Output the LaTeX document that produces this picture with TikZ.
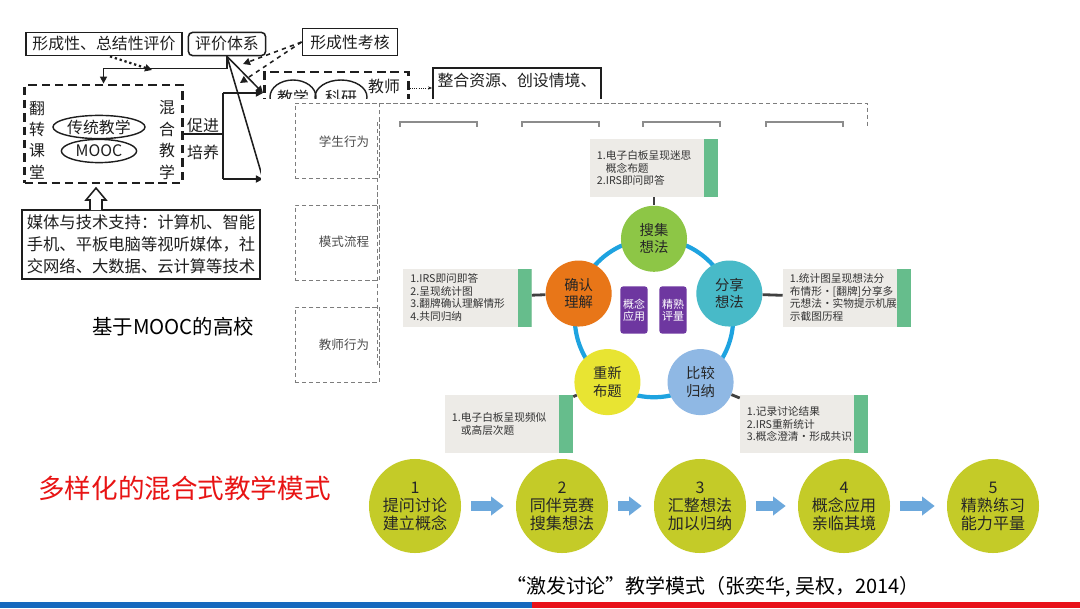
\documentclass[tikz,border=0pt]{standalone}
\usepackage{fontspec}
\setmainfont{Noto Sans CJK SC}
\usepackage{xcolor}
\usepackage{tikz}
\usetikzlibrary{arrows.meta,positioning,shapes.geometric,calc}

\definecolor{scanink}{RGB}{30,30,30}
\definecolor{bgray}{RGB}{125,125,125}
\definecolor{boxgray}{RGB}{237,235,231}
\definecolor{bargreen}{RGB}{102,189,140}
\definecolor{ringblue}{RGB}{30,163,224}
\definecolor{ballgreen}{RGB}{141,198,70}
\definecolor{ballteal}{RGB}{72,186,200}
\definecolor{ballblue}{RGB}{143,184,228}
\definecolor{ballyellow}{RGB}{232,228,50}
\definecolor{ballorange}{RGB}{232,118,24}
\definecolor{tilepurple}{RGB}{110,55,160}
\definecolor{stageolive}{RGB}{196,203,40}
\definecolor{stagearrow}{RGB}{108,168,220}
\definecolor{titlered}{RGB}{232,20,20}
\definecolor{barblue}{RGB}{22,105,190}
\definecolor{barred}{RGB}{232,18,26}

\begin{document}
\begin{tikzpicture}[
  x=0.025cm, y=-0.025cm,
  scanbox/.style={draw=scanink, line width=1.1pt, inner sep=0pt, text=scanink,
    font=\fontsize{11.3pt}{14pt}\selectfont},
  scanline/.style={draw=scanink, line width=1.1pt},
  scantip/.style={-{Triangle[length=5pt, width=5pt]}},
  scandash/.style={draw=scanink, line width=2pt, dash pattern=on 6pt off 3.5pt},
  scantext/.style={text=scanink, font=\fontsize{11.3pt}{15.2pt}\selectfont, align=center, inner sep=0pt},
  scanoval/.style={draw=scanink, line width=1pt, ellipse, inner sep=0pt, scantext},
  bframe/.style={draw=bgray, densely dashed, line width=0.5pt},
  btext/.style={text=black!70, font=\fontsize{8.9pt}{10pt}\selectfont},
  ibox/.style={fill=boxgray, minimum width=3.2cm, minimum height=1.45cm, inner sep=0pt,
    text width=2.85cm, align=left, text=black!80, font=\fontsize{7.6pt}{8.9pt}\selectfont,
    path picture={\fill[bargreen] ([xshift=-0.35cm]path picture bounding box.north east)
      rectangle (path picture bounding box.south east);}},
  ball/.style={circle, minimum size=1.65cm, inner sep=0pt, align=center, text=black!85,
    font=\fontsize{10.2pt}{12.4pt}\selectfont},
  tile/.style={fill=tilepurple, rounded corners=2pt, minimum width=0.68cm, minimum height=1.18cm,
    inner sep=0pt, align=center, text=white, font=\fontsize{7.8pt}{8.8pt}\selectfont},
  link/.style={draw=black!75, line width=2pt},
  stage/.style={ellipse, fill=stageolive, minimum width=2.3cm, minimum height=2.35cm, inner sep=0pt,
    align=center, text=black!85, font=\fontsize{11.4pt}{12.8pt}\selectfont},
  flowarr/.style={draw=stagearrow, line width=7pt, -{Triangle[length=9pt, width=13pt]},
    shorten <=0.25cm, shorten >=0.3cm},
]
\useasboundingbox (0,0) rectangle (1080,608);
\fill[white] (0,0) rectangle (1080,608);

% ===== SCAN: MOOC blended teaching =====
\node[scanbox, minimum width=3.9cm, minimum height=0.58cm] (zjpj) at (104,44) {形成性、总结性评价};
\node[scanbox, rounded corners=3pt, minimum width=1.93cm, minimum height=0.58cm] (pjtx) at (227,44) {评价体系};
\node[scanbox, minimum width=2.38cm, minimum height=0.68cm] (xckh) at (350,42) {形成性考核};

\node[scandash, minimum width=3.93cm, minimum height=2.45cm] (fzkt) at (103.5,134) {};
\node[scantext] (fzlab) at (37,140) {翻\\转\\课\\堂};
\node[scantext] (hhlab) at (167,140) {混\\合\\教\\学};
\node[scanoval, minimum width=2.3cm, minimum height=0.58cm] (ctjx) at (99,127) {传统教学};
\node[scanoval, minimum width=1.88cm, minimum height=0.58cm] (mooc) at (99,151) {MOOC};
\node[scantext] (cj) at (203,125) {促进};
\node[scantext] (py) at (203,152) {培养};

\node[scandash, minimum width=3.58cm, minimum height=2.2cm] (jsbox) at (336.5,116) {};
\node[scanoval, minimum width=1.15cm, minimum height=0.85cm] (jxel) at (293,97) {教学};
\node[scanoval, minimum width=1.3cm, minimum height=0.85cm] (kyel) at (341,97) {科研};
\node[scantext] (jslab) at (384,86) {教师};
\node[scanbox, minimum width=4.2cm, minimum height=1.25cm] (zhzy) at (517,93) {};
\node[scantext, anchor=north] (zhzyt) at (517,73) {整合资源、创设情境、};

\node[scanbox, minimum width=5.95cm, minimum height=1.73cm, align=left,
  font=\fontsize{11.6pt}{15.6pt}\selectfont] (mtjs) at (141,244.5)
  {媒体与技术支持：计算机、智能\\手机、平板电脑等视听媒体，社\\交网络、大数据、云计算等技术};
\draw[scanline, fill=white] (90,210) -- (90,200) -- (86,200) -- (96,188) -- (106,200)
  -- (102,200) -- (102,210);

\coordinate (dotend) at (152,70);
\coordinate (khA) at (243,64);
\coordinate (khB) at (240,83);
\coordinate (inA) at (263,93);
\coordinate (inB) at (263,179);
\coordinate (cjmid) at (223,134);
\coordinate (cjtop) at (223,93);
\coordinate (cjbot) at (223,179);
\coordinate (jsz) at (420,88);

\draw[scanline, scantip] (pjtx.south) |- ($(fzkt.north)+(0,-15)$) -- (fzkt.north);
\draw[scanink, line width=1.6pt, dotted, scantip] ($(zjpj.south)+(6,0)$) -- (dotend);
\draw[scanline, dashed, scantip] (xckh.west) -- (khA);
\draw[scanline, dashed, scantip] (xckh.west) -- (khB);
\draw[scanline, scantip] (pjtx.south) -- (inA);
\draw[scanline] (pjtx.south) -- (inB);
\draw[scanline] (fzkt.east) -- (cjmid);
\draw[scanline] (cjtop) -- (cjbot);
\draw[scanline, scantip] (cjtop) -- (inA);
\draw[scanline, scantip] (cjbot) -- (inB);
\draw[scanink, line width=0.6pt, densely dotted, -{Stealth[length=3pt]}] (jsbox.east |- jsz) -- (zhzy.west |- jsz);

\node[anchor=west, inner sep=0pt, font=\fontsize{14.5pt}{16pt}\selectfont] (mooct) at (92,327) {基于MOOC的高校};

% ===== SHEET: behaviour table =====
\fill[white] (261,99) rectangle (872,386);
\draw[bframe] (295,103) -- (867,103) -- (867,128);
\node[bframe, minimum width=2.1cm, minimum height=1.88cm] (xsbox) at (337,140.5) {};
\node[bframe, minimum width=2.1cm, minimum height=1.88cm] (msbox) at (337,242.5) {};
\node[bframe, minimum width=2.1cm, minimum height=1.88cm] (jxbox) at (337,344.5) {};
\node[btext] (xsxw) at (344,142) {学生行为};
\node[btext] (mslc) at (344,242) {模式流程};
\node[btext] (jsxw) at (344,345) {教师行为};
\draw[bframe] (377,122) -- (377,368);
\foreach \bx in {400,522,643,766}
  \draw[draw=black!45, line width=0.8pt] (\bx,128) |- (\bx+77,122) -- (\bx+77,128);

% ===== CYCLE: five steps =====
\fill[white] (381,127) rectangle (935,458);
\coordinate (cyc) at (654,318);
\draw[ringblue, line width=3pt] (cyc) circle[radius=1.98cm];

\node[ball, fill=ballgreen] (sjxf) at ($(cyc)+(90:1.98cm)$) {搜集\\想法};
\node[ball, fill=ballteal] (fxxf) at ($(cyc)+(18:1.98cm)$) {分享\\想法};
\node[ball, fill=ballblue] (bjgn) at ($(cyc)+(-54:1.98cm)$) {比较\\归纳};
\node[ball, fill=ballyellow] (cxbt) at ($(cyc)+(-126:1.98cm)$) {重新\\布题};
\node[ball, fill=ballorange] (qrlj) at ($(cyc)+(162:1.98cm)$) {确认\\理解};
\node[tile] (gnyy) at ($(cyc)+(-20,-8)$) {概念\\应用};
\node[tile] (jspl) at ($(cyc)+(19,-8)$) {精熟\\评量};

\node[ibox] (sjbox) at (654,168) {1.电子白板呈现迷思\\\phantom{1.}概念布题\\2.IRS即问即答};
\node[ibox] (qrbox) at (467.5,297.5) {1.IRS即问即答\\2.呈现统计图\\3.翻牌确认理解情形\\4.共同归纳};
\node[ibox] (fxbox) at (847,297.5) {1.统计图呈现想法分\\布情形·[翻牌]分享多\\元想法·实物提示机展\\示截图历程};
\node[ibox] (cxbox) at (509,424) {1.电子白板呈现频似\\\phantom{1.}或高层次题};
\node[ibox] (bjbox) at (804,424) {1.记录讨论结果\\2.IRS重新统计\\3.概念澄清·形成共识};

\draw[link] (sjbox) -- (sjxf);
\draw[link] (qrbox) -- (qrlj);
\draw[link] (fxxf) -- (fxbox);
\draw[link] (cxbox) -- (cxbt);
\draw[link] (bjgn) -- (bjbox);

% ===== FLOW: five stages =====
\node[stage] (st1) at (415,506) {1\\提问讨论\\建立概念};
\node[stage] (st2) at (562,506) {2\\同伴竞赛\\搜集想法};
\node[stage] (st3) at (700,506) {3\\汇整想法\\加以归纳};
\node[stage] (st4) at (844,506) {4\\概念应用\\亲临其境};
\node[stage] (st5) at (993,506) {5\\精熟练习\\能力平量};
\foreach \a/\b in {st1/st2, st2/st3, st3/st4, st4/st5}
  \draw[flowarr] (\a) -- (\b);

% ===== Titles and footer =====
\node[anchor=west, inner sep=0pt, text=titlered, font=\fontsize{18.9pt}{22pt}\selectfont] (mstitle) at (38,488) {多样化的混合式教学模式};
\node[inner sep=0pt, font=\fontsize{14.2pt}{16pt}\selectfont] (capt) at (713,587) {“激发讨论”教学模式（张奕华, 吴权，2014）};
\fill[barblue] (0,602) rectangle (532,608);
\fill[barred] (532,602) rectangle (1080,608);

\end{tikzpicture}
\end{document}
